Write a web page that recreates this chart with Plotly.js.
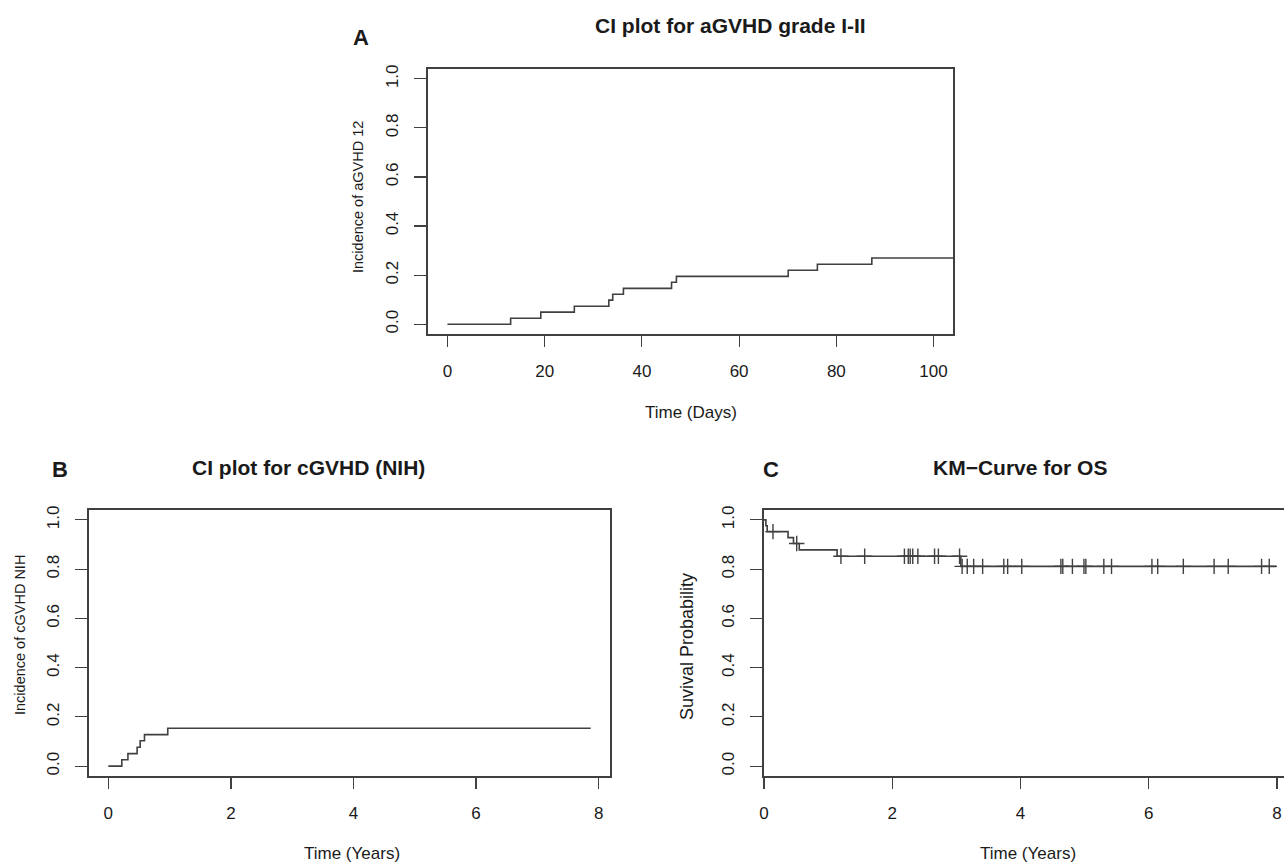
<!DOCTYPE html>
<html>
<head>
<meta charset="utf-8">
<script src="https://cdn.plot.ly/plotly-3.0.1.min.js"></script>
<style>html,body{margin:0;padding:0;background:#fff;}#chart{width:1284px;height:862px;}</style>
</head>
<body>
<div id="chart"></div>
<script>
// ---- Panel A: cumulative incidence of aGVHD grade I-II (days) ----
const aDays = [0, 13.0, 19.2, 26.1, 33.2, 34.0, 36.2, 46.1, 47.1, 70.1, 76.1, 87.3, 104];
const aIncidence = [0, 0.024, 0.049, 0.073, 0.098, 0.122, 0.146, 0.171, 0.195, 0.220, 0.244, 0.270, 0.270];

// ---- Panel B: cumulative incidence of cGVHD (NIH) (years) ----
const bYears = [0, 0.22, 0.32, 0.47, 0.52, 0.59, 0.97, 7.87];
const bIncidence = [0, 0.026, 0.051, 0.077, 0.103, 0.128, 0.154, 0.154];

// ---- Panel C: Kaplan-Meier overall survival (years) ----
const cYears = [0, 0.03, 0.05, 0.375, 0.46, 0.55, 1.14, 3.07, 7.99];
const cSurvival = [1.0, 0.976, 0.952, 0.928, 0.904, 0.878, 0.852, 0.811, 0.811];
const cCensorYears = [0.14, 0.51, 1.20, 1.57, 2.19, 2.25, 2.28, 2.32, 2.40, 2.66, 2.72, 3.05,
  3.09, 3.17, 3.27, 3.41, 3.74, 3.80, 4.02, 4.63, 4.66, 4.81, 4.99, 5.02, 5.30, 5.42,
  6.05, 6.14, 6.54, 7.02, 7.24, 7.76, 7.88];

const xTicksA = [0, 20, 40, 60, 80, 100];
const xTicksYears = [0, 2, 4, 6, 8];
const yTicks = [0, 0.2, 0.4, 0.6, 0.8, 1.0];

// survival level at a given time from the step function
function survAt(t) {
  let s = cSurvival[0];
  for (let i = 0; i < cYears.length; i++) { if (cYears[i] <= t) s = cSurvival[i]; }
  return s;
}

const W = 1284, H = 862;
const px = x => x / W;
const py = y => 1 - y / H;

const lineCol = '#404040';
const textCol = '#1a1a1a';
const FONT = 'Liberation Sans, Arial, Helvetica, sans-serif';

const traces = [
  {x: aDays, y: aIncidence, type: 'scatter', mode: 'lines', line: {shape: 'hv', color: lineCol, width: 1.6}, xaxis: 'x', yaxis: 'y', hoverinfo: 'x+y'},
  {x: bYears, y: bIncidence, type: 'scatter', mode: 'lines', line: {shape: 'hv', color: lineCol, width: 1.6}, xaxis: 'x2', yaxis: 'y2', hoverinfo: 'x+y'},
  {x: cYears, y: cSurvival, type: 'scatter', mode: 'lines', line: {shape: 'hv', color: lineCol, width: 1.6}, xaxis: 'x3', yaxis: 'y3', hoverinfo: 'x+y'},
  {x: cCensorYears, y: cCensorYears.map(survAt), type: 'scatter', mode: 'markers',
   marker: {symbol: 'cross-thin', size: 11, line: {color: lineCol, width: 1.4}, color: lineCol},
   xaxis: 'x3', yaxis: 'y3', hoverinfo: 'x+y'}
];

function xAxis(domain, range, ticks, anchor) {
  return {domain: domain, range: range, anchor: anchor, tickvals: ticks, ticktext: ticks.map(String),
    ticks: 'outside', ticklen: 11, tickwidth: 1.2, tickcolor: lineCol, ticklabelstandoff: 10,
    showline: true, linecolor: lineCol, linewidth: 1.6, mirror: true,
    showgrid: false, zeroline: false, fixedrange: true,
    tickfont: {family: FONT, size: 17, color: textCol}};
}
function yAxis(domain, anchor, mirror) {
  return {domain: domain, range: [-0.04, 1.04], anchor: anchor, tickvals: yTicks, ticktext: yTicks.map(v => v.toFixed(1)),
    ticks: 'outside', ticklen: 12, tickwidth: 1.2, tickcolor: lineCol, tickangle: -90, ticklabelstandoff: 10,
    showline: true, linecolor: lineCol, linewidth: 1.6, mirror: mirror,
    showgrid: false, zeroline: false, fixedrange: true,
    tickfont: {family: FONT, size: 17, color: textCol}};
}

const yDomA = [py(334), py(69)];
const yDomBC = [py(776), py(510)];

function ann(text, x, y, size, bold, angle) {
  return {text: bold ? '<b>' + text + '</b>' : text, x: px(x), y: py(y), xref: 'paper', yref: 'paper',
    showarrow: false, xanchor: 'center', yanchor: 'middle', textangle: angle || 0,
    font: {family: FONT, size: size, color: textCol}};
}

const layout = {
  width: W, height: H,
  margin: {l: 0, r: 0, t: 0, b: 0},
  paper_bgcolor: '#ffffff', plot_bgcolor: '#ffffff',
  showlegend: false,
  xaxis: xAxis([px(428), px(953)], [-4, 104], xTicksA, 'y'),
  yaxis: yAxis(yDomA, 'x', true),
  xaxis2: xAxis([px(89), px(610)], [-0.315, 8.185], xTicksYears, 'y2'),
  yaxis2: yAxis(yDomBC, 'x2', true),
  xaxis3: xAxis([px(764), 1], [0, 8.11], xTicksYears, 'y3'),
  yaxis3: yAxis(yDomBC, 'x3', false),
  annotations: [
    ann('A', 361, 37, 22, true),
    ann('CI plot for aGVHD grade I-II', 730, 25, 21, true),
    ann('Incidence of aGVHD 12', 358, 197, 14.5, false, -90),
    ann('Time (Days)', 691, 412, 17, false),
    ann('B', 60, 470, 22, true),
    ann('CI plot for cGVHD (NIH)', 308, 467, 21, true),
    ann('Incidence of cGVHD NIH', 20, 635, 14.5, false, -90),
    ann('Time (Years)', 352, 853, 17, false),
    ann('C', 771, 470, 22, true),
    ann('KM−Curve for OS', 1020, 467, 21, true),
    ann('Suvival Probability', 687, 647, 18, false, -90),
    ann('Time (Years)', 1028, 853, 17, false)
  ]
};

Plotly.newPlot('chart', traces, layout, {displayModeBar: false, staticPlot: true});
</script>
</body>
</html>
